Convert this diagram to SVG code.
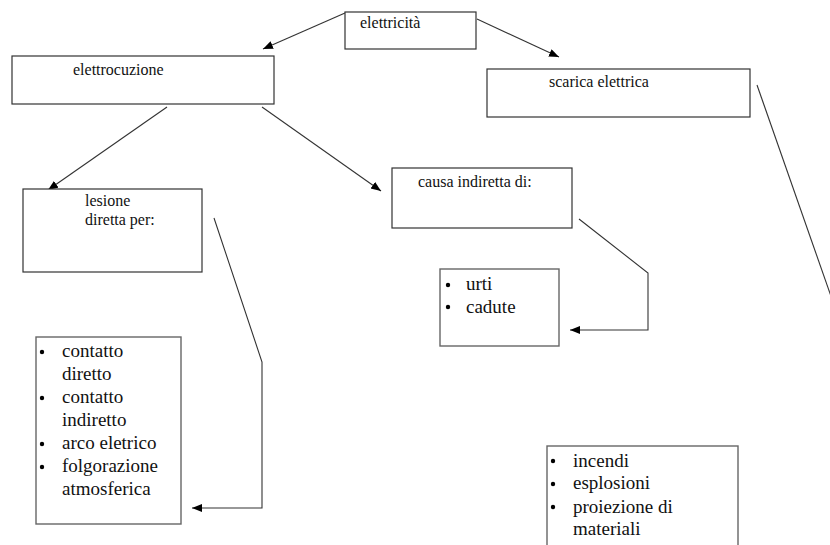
<svg xmlns="http://www.w3.org/2000/svg" width="830" height="545" viewBox="0 0 830 545">
<style>
.box{fill:#fff;stroke:#333;stroke-width:1.2}
.list{fill:#fff;stroke:#666;stroke-width:1.4}
.lbl{font-family:'Liberation Serif','DejaVu Serif','Noto Serif',Tinos,Times,serif;font-size:16px;fill:#111}
.itm{font-family:'Liberation Serif','DejaVu Serif','Noto Serif',Tinos,Times,serif;font-size:19px;fill:#111}
.con{fill:none;stroke:#333;stroke-width:1.1}
.dot{fill:#000}
</style>
<defs>
<marker id="ah" markerUnits="userSpaceOnUse" markerWidth="11" markerHeight="9" refX="10" refY="4" orient="auto">
<path d="M0,0 L10,4 L0,8 z" fill="#000"/>
</marker>
</defs>
<rect width="830" height="545" fill="#fff"/>
<g id="connectors">
<line class="con" x1="345" y1="13" x2="263" y2="49" marker-end="url(#ah)"/>
<line class="con" x1="477" y1="19" x2="559" y2="57" marker-end="url(#ah)"/>
<line class="con" x1="167" y1="107" x2="48" y2="190" marker-end="url(#ah)"/>
<line class="con" x1="262" y1="107" x2="381" y2="191" marker-end="url(#ah)"/>
<polyline class="con" points="214,218 262,362 262,508 192,508" marker-end="url(#ah)"/>
<polyline class="con" points="579,219 648,273 648,330 570,330" marker-end="url(#ah)"/>
<line class="con" x1="757" y1="85" x2="833" y2="302"/>
</g>
<g id="n-elettricita">
<rect class="box" x="345" y="12" width="131" height="37"/>
<text class="lbl" x="360" y="28">elettricità</text>
</g>
<g id="n-elettrocuzione">
<rect class="box" x="12" y="56" width="262" height="48"/>
<text class="lbl" x="73" y="75">elettrocuzione</text>
</g>
<g id="n-scarica">
<rect class="box" x="487" y="69" width="263" height="48"/>
<text class="lbl" x="549" y="87">scarica elettrica</text>
</g>
<g id="n-lesione">
<rect class="box" x="23" y="189" width="179" height="83"/>
<text class="lbl" x="85" y="206">lesione</text>
<text class="lbl" x="85" y="225">diretta per:</text>
</g>
<g id="n-causa">
<rect class="box" x="392" y="168" width="180" height="60"/>
<text class="lbl" x="418" y="187">causa indiretta di:</text>
</g>
<g id="n-urti">
<rect class="list" x="440" y="269" width="119" height="77"/>
<circle class="dot" cx="448" cy="285" r="2.2"/>
<circle class="dot" cx="448" cy="307" r="2.2"/>
<text class="itm" x="466" y="290">urti</text>
<text class="itm" x="466" y="313">cadute</text>
</g>
<g id="n-contatto">
<rect class="list" x="36" y="337" width="145" height="187"/>
<circle class="dot" cx="42" cy="352" r="2.2"/>
<circle class="dot" cx="42" cy="398" r="2.2"/>
<circle class="dot" cx="42" cy="444" r="2.2"/>
<circle class="dot" cx="42" cy="467" r="2.2"/>
<text class="itm" x="62" y="357">contatto</text>
<text class="itm" x="62" y="380">diretto</text>
<text class="itm" x="62" y="403">contatto</text>
<text class="itm" x="62" y="426">indiretto</text>
<text class="itm" x="62" y="449">arco eletrico</text>
<text class="itm" x="62" y="472">folgorazione</text>
<text class="itm" x="62" y="495">atmosferica</text>
</g>
<g id="n-incendi">
<rect class="list" x="547" y="446" width="191" height="110"/>
<circle class="dot" cx="553" cy="461" r="2.2"/>
<circle class="dot" cx="553" cy="484" r="2.2"/>
<circle class="dot" cx="553" cy="507" r="2.2"/>
<text class="itm" x="573" y="467">incendi</text>
<text class="itm" x="573" y="489">esplosioni</text>
<text class="itm" x="573" y="513">proiezione di</text>
<text class="itm" x="573" y="535">materiali</text>
</g>
</svg>
